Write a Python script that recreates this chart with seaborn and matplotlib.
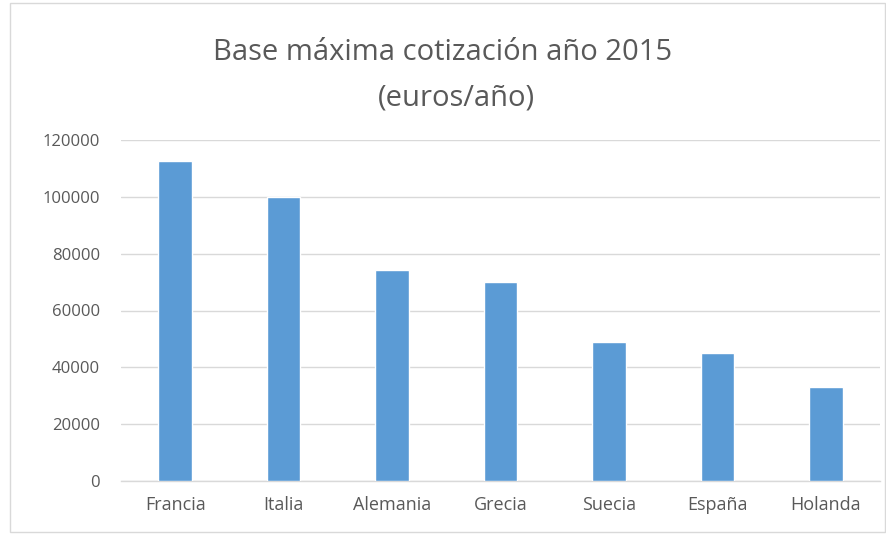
import matplotlib
matplotlib.use("Agg")
import matplotlib.pyplot as plt
import seaborn as sns
import pandas as pd

paises = ["Francia", "Italia", "Alemania", "Grecia", "Suecia", "España", "Holanda"]
base_maxima = [112600, 99800, 74400, 70100, 49000, 44900, 33200]
y_ticks = [0, 20000, 40000, 60000, 80000, 100000, 120000]

df = pd.DataFrame({"pais": paises, "valor": base_maxima})

sns.set_theme(style="white")
plt.rcParams["font.family"] = ["Open Sans", "DejaVu Sans"]

fig = plt.figure(figsize=(8.87, 5.35), dpi=100)
ax = fig.add_axes([121/887, 1 - 481/535, (880 - 121)/887, (481 - 140)/535])

sns.barplot(data=df, x="pais", y="valor", color="#5B9BD5", width=0.31,
            saturation=1, ax=ax, zorder=3)

ax.set_ylim(0, 120000)
ax.set_xlim(-0.5, len(paises) - 0.5)
ax.set_yticks(y_ticks)
ax.set_yticklabels([str(v) for v in y_ticks])
ax.yaxis.grid(True, color="#D9D9D9", linewidth=1, zorder=0)
ax.set_axisbelow(True)
for s in ["top", "right", "left"]:
    ax.spines[s].set_visible(False)
ax.spines["bottom"].set_color("#D9D9D9")
ax.spines["bottom"].set_linewidth(1)
ax.tick_params(axis="both", length=0, colors="#595959")
ax.tick_params(axis="y", pad=15, labelsize=12)
ax.tick_params(axis="x", pad=11, labelsize=13)
ax.set_xlabel("")
ax.set_ylabel("")

fig.text(443/887, 1 - 53/535, "Base máxima cotización año 2015",
         ha="center", va="center", fontsize=21, color="#595959")
fig.text(456/887, 1 - 98/535, "(euros/año)",
         ha="center", va="center", fontsize=21, color="#595959")

border = plt.Rectangle((10/887, 0.005), 1 - 12/887, 0.99, transform=fig.transFigure,
                       fill=False, edgecolor="#D9D9D9", linewidth=1)
fig.add_artist(border)

fig.savefig("out.png", dpi=100, facecolor="white")
